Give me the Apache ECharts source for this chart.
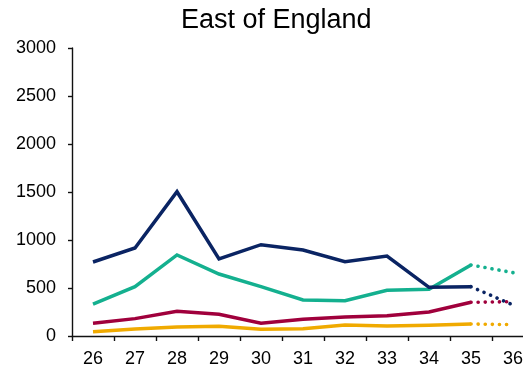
<!DOCTYPE html>
<html>
<head>
<meta charset="utf-8">
<script src="https://cdn.jsdelivr.net/npm/echarts@6/dist/echarts.min.js"></script>
<style>
html,body{margin:0;padding:0;background:#fff;overflow:hidden;}
#chart{width:540px;height:376px;}
</style>
</head>
<body>
<div id="chart"></div>
<script>
var title = 'East of England';
var categories = ['26','27','28','29','30','31','32','33','34','35','36'];
var yTicks = [0, 500, 1000, 1500, 2000, 2500, 3000];
// Solid (actual) values for 26..35, dotted projection 35->36
var navy   = [771, 917, 1503, 802, 951, 896, 774, 833, 507, 514];
var navyP  = 323;
var teal   = [333, 514, 844, 646, 514, 375, 368, 476, 486, 740];
var tealP  = 660;
var red    = [132, 181, 257, 226, 132, 174, 198, 212, 250, 351];
var redP   = 358;
var yellow = [45, 73, 94, 101, 70, 76, 115, 104, 111, 125];
var yellowP = 118;

var colors = {navy:'#0A2463', teal:'#14B08F', red:'#A0003C', yellow:'#F0AA00'};

function solid(arr){ return arr.concat([null]); }
function proj(arr, p){
  var d = arr.map(function(){ return null; });
  d[arr.length-1] = arr[arr.length-1];
  d.push(p);
  return d;
}
function mk(name, data, color, dotted){
  return {
    name: name, type: 'line', data: data, symbol: 'none', silent: true,
    connectNulls: false, animation: false,
    lineStyle: dotted ? {color: color, width: 3.6, type: [0.1, 7], cap: 'round'}
                      : {color: color, width: 3.5, cap: 'butt', join: 'miter'}
  };
}

var chart = echarts.init(document.getElementById('chart'), null, {renderer:'canvas'});
chart.setOption({
  animation: false,
  title: {
    text: title, left: 176, top: 2,
    textStyle: {fontFamily: 'Liberation Sans, Arial, sans-serif', fontSize: 27, fontWeight: 'normal', color: '#000'}
  },
  grid: {left: 72, top: 48, width: 462, height: 288, containLabel: false},
  xAxis: {
    type: 'category', data: categories, boundaryGap: true,
    axisLine: {lineStyle: {color: '#111', width: 1.4}},
    axisTick: {show: true, length: 5, alignWithLabel: false, lineStyle: {color: '#111', width: 1.4}},
    axisLabel: {color: '#000', fontSize: 18, fontFamily: 'Liberation Sans, Arial, sans-serif', margin: 14, interval: 0},
    splitLine: {show: false}
  },
  yAxis: {
    type: 'value', min: yTicks[0], max: yTicks[yTicks.length-1], interval: yTicks[1]-yTicks[0],
    axisLine: {show: true, lineStyle: {color: '#111', width: 1.4}},
    axisTick: {show: true, length: 4, lineStyle: {color: '#111', width: 1.4}},
    axisLabel: {color: '#000', fontSize: 18, fontFamily: 'Liberation Sans, Arial, sans-serif', margin: 16,
      formatter: function(v){ return String(v); }},
    splitLine: {show: false}
  },
  series: [
    mk('yellow', solid(yellow), colors.yellow, false),
    mk('red', solid(red), colors.red, false),
    mk('teal', solid(teal), colors.teal, false),
    mk('navy', solid(navy), colors.navy, false),
    mk('yellowP', proj(yellow, yellowP), colors.yellow, true),
    mk('redP', proj(red, redP), colors.red, true),
    mk('tealP', proj(teal, tealP), colors.teal, true),
    mk('navyP', proj(navy, navyP), colors.navy, true)
  ]
});
</script>
</body>
</html>
